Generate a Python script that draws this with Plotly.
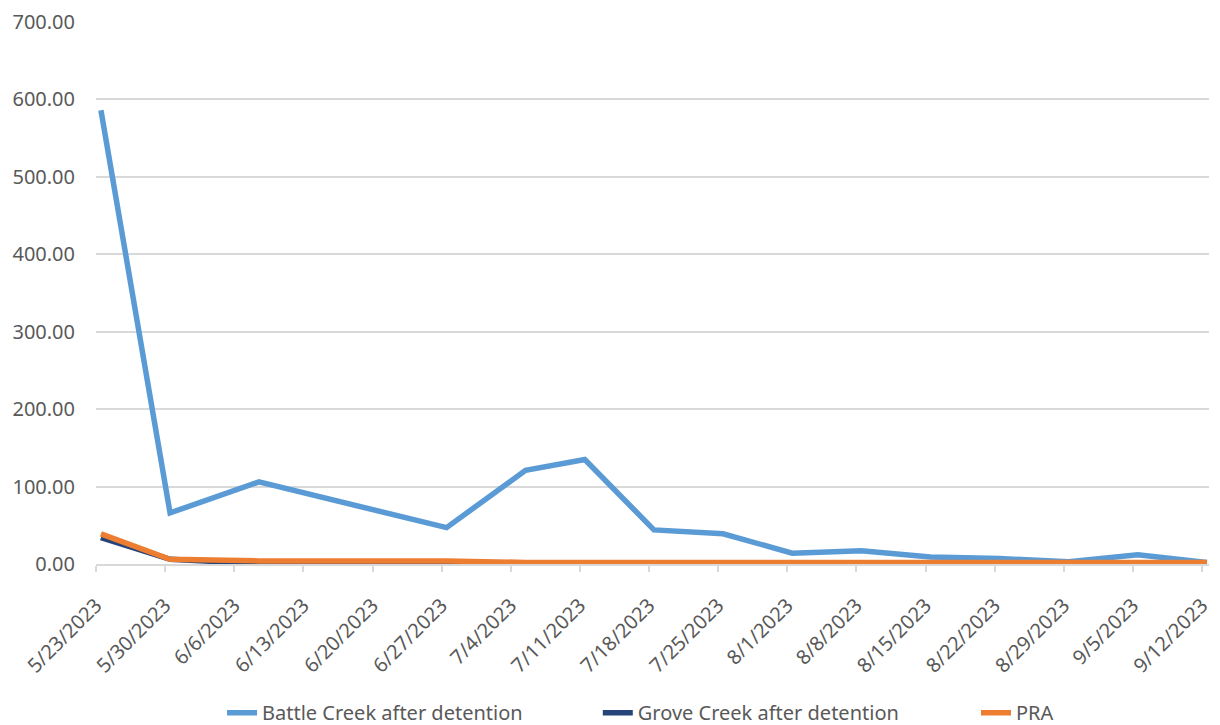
import pandas as pd
import plotly.graph_objects as go

# Sampling dates and concentrations
sample_dates = ["2023-05-23", "2023-05-30", "2023-06-08", "2023-06-27", "2023-07-05",
                "2023-07-11", "2023-07-18", "2023-07-25", "2023-08-01", "2023-08-08",
                "2023-08-15", "2023-08-22", "2023-08-29", "2023-09-05", "2023-09-12"]
battle_creek = [586, 66, 106, 47, 121, 135, 44, 39, 14, 17, 9, 7, 3, 12, 2]
grove_creek = [34, 6, 0.5, 0.5, 1.5, 1.5, 1, 1, 1, 1, 1, 1, 1, 1, 1]
pra = [39, 6, 4, 4, 2, 2, 1.5, 1.5, 1.5, 2, 2, 2, 2, 2, 2]

# Weekly axis labels
tick_labels = ["5/23/2023", "5/30/2023", "6/6/2023", "6/13/2023", "6/20/2023", "6/27/2023",
               "7/4/2023", "7/11/2023", "7/18/2023", "7/25/2023", "8/1/2023", "8/8/2023",
               "8/15/2023", "8/22/2023", "8/29/2023", "9/5/2023", "9/12/2023"]

# points sit at the middle of each day, ticks on the day boundaries
tick_pos = pd.to_datetime(tick_labels, format="%m/%d/%Y") - pd.Timedelta(hours=12)
x_pts = pd.to_datetime(sample_dates)

FONT = "Noto Sans"
GREY = "#595959"

fig = go.Figure()
series = [("Battle Creek after detention", battle_creek, "#5B9BD5", "legend"),
          ("Grove Creek after detention", grove_creek, "#264478", "legend2"),
          ("PRA", pra, "#ED7D31", "legend3")]
for name, vals, color, leg in series:
    fig.add_trace(go.Scatter(x=x_pts, y=vals, name=name, mode="lines", legend=leg,
                             line=dict(color=color, width=5.5)))

# one legend box per series so the entries keep their own spacing
legend_style = dict(orientation="h", xref="container", yref="container",
                    xanchor="left", y=0.017, yanchor="middle",
                    font=dict(family=FONT, size=20, color=GREY),
                    bgcolor="rgba(0,0,0,0)")

fig.update_layout(
    width=1220, height=725,
    margin=dict(l=96, r=7, t=22, b=161),
    paper_bgcolor="white", plot_bgcolor="white",
    font=dict(family=FONT, size=19, color=GREY),
    showlegend=True,
    legend=dict(x=0.182, **legend_style),
    legend2=dict(x=0.490, **legend_style),
    legend3=dict(x=0.800, **legend_style),
)
fig.update_xaxes(
    type="date",
    range=[tick_pos[0], tick_pos[-1] + pd.Timedelta(hours=17)],
    tickvals=tick_pos, ticktext=tick_labels, tickangle=-45,
    showgrid=False, showline=True, linecolor="#D9D9D9", linewidth=1.5,
    ticks="outside", ticklen=6, tickcolor="#D9D9D9", tickwidth=1.5,
    ticklabelstandoff=14,
    tickfont=dict(family=FONT, size=20, color=GREY), zeroline=False,
)
fig.update_yaxes(
    range=[0, 700], dtick=100, tickformat=".2f",
    showgrid=True, gridcolor="#D9D9D9", gridwidth=1.5, zeroline=False,
    showline=False, ticks="", ticklabelstandoff=20,
    tickfont=dict(family=FONT, size=20, color=GREY),
)

fig.write_html("out.html")
